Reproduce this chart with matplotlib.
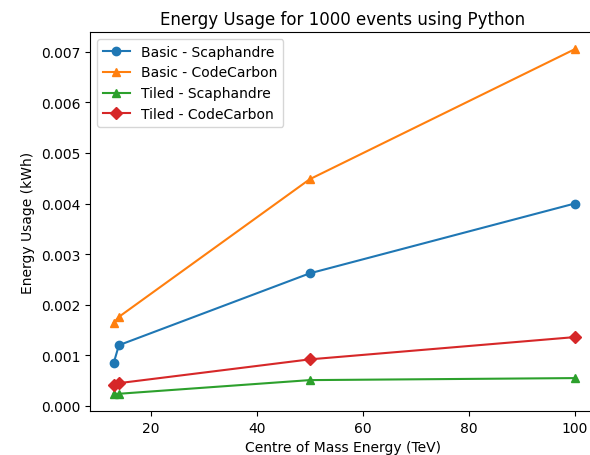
import matplotlib
matplotlib.use('Agg')
import matplotlib.pyplot as plt

# Energia del centro de masa (TeV)
energies = [13, 14, 50, 100]

# Uso de energia (kWh) para 1000 eventos
basic_scaphandre = [0.00084, 0.00120, 0.00262, 0.00400]
basic_codecarbon = [0.00164, 0.00176, 0.00448, 0.00705]
tiled_scaphandre = [0.00024, 0.00024, 0.00051, 0.00055]
tiled_codecarbon = [0.00041, 0.00045, 0.00092, 0.00136]

fig = plt.figure(figsize=(5.9, 4.56), dpi=100)
# la imagen original esta recortada por la derecha: sin borde derecho
ax = fig.add_axes([90 / 590, 44 / 456, 500 / 590, 379 / 456])
ax.spines['right'].set_visible(False)

ax.plot(energies, basic_scaphandre, marker='o', label='Basic - Scaphandre')
ax.plot(energies, basic_codecarbon, marker='^', label='Basic - CodeCarbon')
ax.plot(energies, tiled_scaphandre, marker='^', label='Tiled - Scaphandre')
ax.plot(energies, tiled_codecarbon, marker='D', label='Tiled - CodeCarbon')

ax.set_xlim(8.55, 8.55 + 500 / 5.3)
ax.set_title('Energy Usage for 1000 events using Python', x=0.506)
ax.set_xlabel('Centre of Mass Energy (TeV)', x=0.506)
ax.set_ylabel('Energy Usage (kWh)')
ax.legend(loc='upper left')

fig.savefig('out.png', dpi=100)
